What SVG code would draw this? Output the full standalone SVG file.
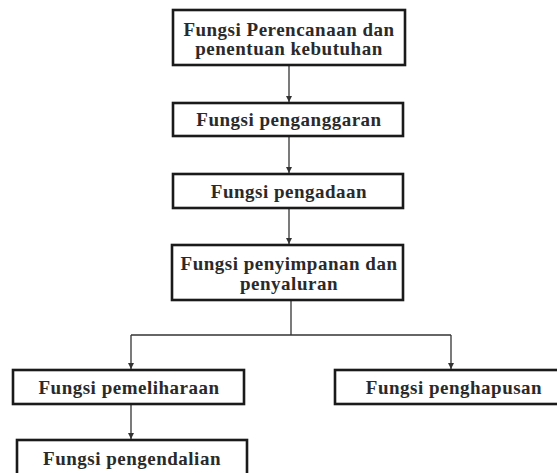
<svg xmlns="http://www.w3.org/2000/svg" width="557" height="473" viewBox="0 0 557 473">
<style>
.box{fill:#fff;stroke:#1a1a1a;stroke-width:2.6}
.t{font-family:"Liberation Serif","Times New Roman",serif;font-weight:bold;font-size:19px;fill:#2a2a2a;text-anchor:middle;letter-spacing:0.5px}
.c{fill:none;stroke:#333;stroke-width:1.3}
</style>
<defs>
<marker id="ah" markerWidth="8" markerHeight="8" refX="6" refY="3" orient="auto" markerUnits="userSpaceOnUse">
<path d="M0,0 L6,3 L0,6 Z" fill="#333"/>
</marker>
</defs>
<rect width="557" height="473" fill="#fff"/>
<g id="connectors">
<line class="c" x1="289" y1="66" x2="289" y2="102" marker-end="url(#ah)"/>
<line class="c" x1="289" y1="137" x2="289" y2="173" marker-end="url(#ah)"/>
<line class="c" x1="289" y1="209" x2="289" y2="244" marker-end="url(#ah)"/>
<line class="c" x1="291" y1="301" x2="291" y2="335"/>
<line class="c" x1="131" y1="335" x2="451" y2="335"/>
<line class="c" x1="131" y1="335" x2="131" y2="369" marker-end="url(#ah)"/>
<line class="c" x1="451" y1="335" x2="451" y2="369" marker-end="url(#ah)"/>
<line class="c" x1="131" y1="405" x2="131" y2="439" marker-end="url(#ah)"/>
</g>
<g id="n1">
<rect class="box" x="173" y="10" width="232" height="55"/>
<text class="t" x="289" y="36">Fungsi Perencanaan dan</text>
<text class="t" x="289" y="55">penentuan kebutuhan</text>
</g>
<g id="n2">
<rect class="box" x="173" y="103" width="230" height="33"/>
<text class="t" x="289" y="126">Fungsi penganggaran</text>
</g>
<g id="n3">
<rect class="box" x="173" y="174" width="230" height="34"/>
<text class="t" x="289" y="198">Fungsi pengadaan</text>
</g>
<g id="n4">
<rect class="box" x="172" y="245" width="231" height="55"/>
<text class="t" x="289" y="270">Fungsi penyimpanan dan</text>
<text class="t" x="289" y="290">penyaluran</text>
</g>
<g id="n5">
<rect class="box" x="13" y="370" width="231" height="34"/>
<text class="t" x="129" y="394">Fungsi pemeliharaan</text>
</g>
<g id="n6">
<rect class="box" x="335" y="370" width="238" height="34"/>
<text class="t" x="454" y="394">Fungsi penghapusan</text>
</g>
<g id="n7">
<rect class="box" x="17" y="440" width="230" height="45"/>
<text class="t" x="132" y="465">Fungsi pengendalian</text>
</g>
</svg>
